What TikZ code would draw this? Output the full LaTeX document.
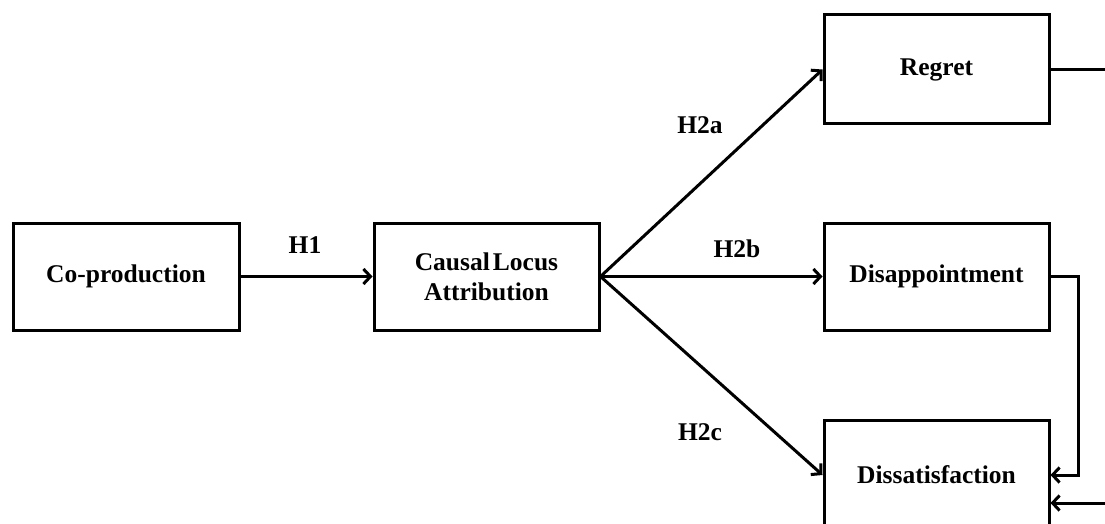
\documentclass[tikz,border=0pt]{standalone}
\usepackage{fontspec}
\setmainfont{Liberation Serif}
\usetikzlibrary{arrows.meta}
\begin{document}
\begin{tikzpicture}[x=1pt,y=-1pt,
  box/.style={draw, line width=3pt, minimum width=225pt, minimum height=107pt, inner sep=0pt, align=center,
    font=\fontsize{25.5}{30}\selectfont\bfseries},
  lbl/.style={font=\fontsize{25.5}{30}\selectfont\bfseries, inner sep=0pt},
  conn/.style={line width=3pt, -{Straight Barb[length=7pt,width=15pt]}},
  plain/.style={line width=3pt}]
\useasboundingbox (0,0) rectangle (1105,524);
\clip (0,0) rectangle (1105,524);
\node[box, minimum width=226pt] (cop) at (126,276.5) {Co-production};
\node[box] (cla) at (486.5,276.5) {Causal\hspace{0.12em}Locus\\Attribution};
\node[box, minimum height=109pt] (reg) at (936.5,69.5) {Regret};
\node[box] (dis) at (936.5,276.5) {Disappointment};
\node[box, minimum height=110pt] (dsf) at (936.5,475) {Dissatisfaction};
\coordinate (regout) at (1115,69.5);
\coordinate (bend) at (1078,276.5);
\coordinate (rin) at (1115,503);
\draw[conn] (cop.east) -- (cla.west);
\draw[conn] (cla.east) -- (reg.west);
\draw[conn] (cla.east) -- (dis.west);
\draw[conn] (cla.east) -- (dsf.west);
\draw[plain] (reg.east) -- (regout);
\draw[conn] (dis.east) -- (bend) |- (dsf.east);
\draw[conn] (rin) -- (rin -| dsf.east);
\node[lbl] (h1) at (305,245) {H1};
\node[lbl] (h2a) at (700,125) {H2a};
\node[lbl] (h2b) at (737,249) {H2b};
\node[lbl] (h2c) at (700,432) {H2c};
\end{tikzpicture}
\end{document}
